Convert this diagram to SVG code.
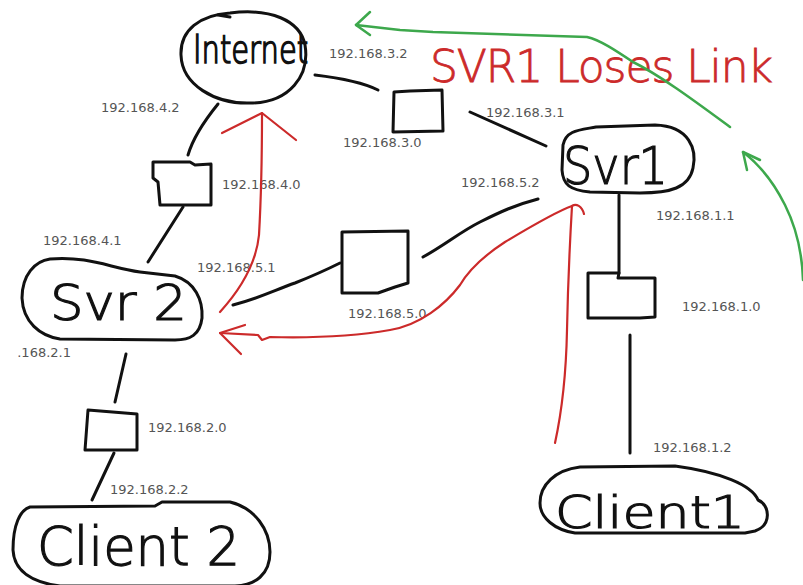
<svg xmlns="http://www.w3.org/2000/svg" width="803" height="585" viewBox="0 0 803 585">
<style>
.shape{fill:none;stroke:#111;stroke-width:3;stroke-linejoin:round;stroke-linecap:round}
.box{fill:#fff;stroke:#111;stroke-width:3;stroke-linejoin:round}
.wire{fill:none;stroke:#111;stroke-width:3;stroke-linecap:round;stroke-linejoin:round}
.red{fill:none;stroke:#cc2a2a;stroke-width:2.2;stroke-linecap:round;stroke-linejoin:round}
.green{fill:none;stroke:#3da84c;stroke-width:2.5;stroke-linecap:round;stroke-linejoin:round}
.ip{font-family:"DejaVu Sans",sans-serif;font-size:13px;fill:#555}
.hand{font-family:"DejaVu Sans",sans-serif;fill:#111;stroke:#111;stroke-width:1.2;font-weight:200}
.title{font-family:"DejaVu Sans",sans-serif;fill:#cc2a2a;stroke:#cc2a2a;stroke-width:0.8;font-weight:200}
</style>
<rect width="803" height="585" fill="#fff"/>
<g id="connectors">
<path class="wire" d="M315,75 C340,78 362,82 378,90"/>
<path class="wire" d="M470,112 L546,146"/>
<path class="wire" d="M218,104 C205,120 193,138 188,155"/>
<path class="wire" d="M183,207 L148,262"/>
<path class="wire" d="M233,305 C260,298 275,290 295,283 C315,275 330,268 340,263"/>
<path class="wire" d="M423,257 C445,245 460,232 480,222 C500,212 515,205 538,199"/>
<path class="wire" d="M619,195 L619,273"/>
<path class="wire" d="M630,335 L630,453"/>
<path class="wire" d="M126,354 L115,402"/>
<path class="wire" d="M114,453 L92,500"/>
</g>
<g id="internet">
<path class="shape" d="M230,13 C270,8 300,20 305,45 C310,75 290,103 250,103 C215,104 182,85 181,55 C180,30 200,15 230,13 Z"/>
<path class="shape" d="M218,15 L230,17"/>
<text class="hand" transform="translate(193,63) scale(1,1.35)" x="0" y="0" font-size="29">Internet</text>
</g>
<g id="sw3">
<path class="box" d="M394,92 L410,91 L442,90 L443,131 L393,132 Z"/>
</g>
<g id="sw4">
<path class="box" d="M153,162 L190,162 L195,165 L211,164 L211,205 L160,205 L158,182 L153,178 Z"/>
</g>
<g id="sw5">
<path class="box" d="M342,232 L408,231 L408,283 L395,287 L378,293 L342,293 Z"/>
</g>
<g id="sw1">
<path class="box" d="M588,273 L619,273 L618,278 L655,278 L655,317 L640,318 L588,318 Z"/>
</g>
<g id="sw2">
<path class="box" d="M88,410 L137,414 L137,450 L85,450 Z"/>
</g>
<g id="svr1">
<path class="shape" d="M596,127 L655,125 C690,126 697,150 693,168 C689,188 670,193 640,193 L590,192 C570,190 563,185 562,170 L563,145 C566,130 580,130 596,127 Z"/>
<text class="hand" x="563" y="184" font-size="52" textLength="105" lengthAdjust="spacingAndGlyphs">Svr1</text>
</g>
<g id="svr2">
<path class="shape" d="M50,259 C90,256 110,268 140,272 L175,276 C195,282 203,300 202,318 C200,335 190,340 175,340 L60,339 C40,336 23,322 22,298 C22,275 35,261 50,259 Z"/>
<text class="hand" x="50" y="320" font-size="50" textLength="137" lengthAdjust="spacingAndGlyphs">Svr 2</text>
</g>
<g id="client2">
<path class="shape" d="M30,507 L155,506 L162,502 L230,502 C255,508 270,530 270,552 C270,575 255,585 235,586 L60,586 C30,582 14,570 13,550 C13,525 20,510 30,507 Z"/>
<text class="hand" x="37" y="565" font-size="54" textLength="203" lengthAdjust="spacingAndGlyphs">Client 2</text>
</g>
<g id="client1">
<path class="shape" d="M580,467 L675,466 C720,472 752,485 758,500 C770,505 772,525 755,531 L745,533 L575,533 C555,530 540,518 540,503 C540,485 555,470 580,467 Z"/>
<text class="hand" x="555" y="528" font-size="45" textLength="190" lengthAdjust="spacingAndGlyphs">Client1</text>
</g>
<g id="labels">
<text class="ip" x="329" y="58">192.168.3.2</text>
<text class="ip" x="101" y="112">192.168.4.2</text>
<text class="ip" x="343" y="147">192.168.3.0</text>
<text class="ip" x="486" y="117">192.168.3.1</text>
<text class="ip" x="222" y="189">192.168.4.0</text>
<text class="ip" x="461" y="187">192.168.5.2</text>
<text class="ip" x="656" y="220">192.168.1.1</text>
<text class="ip" x="43" y="245">192.168.4.1</text>
<text class="ip" x="197" y="272">192.168.5.1</text>
<text class="ip" x="682" y="311">192.168.1.0</text>
<text class="ip" x="348" y="318">192.168.5.0</text>
<text class="ip" x="71" y="357" text-anchor="end">.168.2.1</text>
<text class="ip" x="148" y="432">192.168.2.0</text>
<text class="ip" x="110" y="494">192.168.2.2</text>
<text class="ip" x="653" y="452">192.168.1.2</text>
</g>
<g id="annotations">
<path class="red" d="M220,312 C240,290 256,265 259,235 C261,200 262,150 262,113"/>
<path class="red" d="M222,133 L262,113 L296,140"/>
<path class="red" d="M555,443 C560,420 566,380 567,330 C568,280 570,240 572,206 C576,203 582,206 584,214"/>
<path class="red" d="M572,206 C555,212 525,230 505,242 C485,255 470,268 460,285 C445,305 420,325 390,330 C350,337 310,338 270,337 L262,340 L258,335 L220,333"/>
<path class="red" d="M245,325 L220,333 L241,354"/>
<text class="title" x="430" y="82" font-size="44" textLength="343" lengthAdjust="spacing">SVR1 Loses Link</text>
<path class="green" d="M730,127 C700,105 660,75 633,62 C615,50 600,40 587,37 L433,32 L400,30 L356,25"/>
<path class="green" d="M370,12 L356,25 L370,35"/>
<path class="green" d="M743,152 C760,165 775,185 785,205 C795,225 802,250 803,280"/>
<path class="green" d="M760,160 L743,152 L747,170"/>
</g>
</svg>
